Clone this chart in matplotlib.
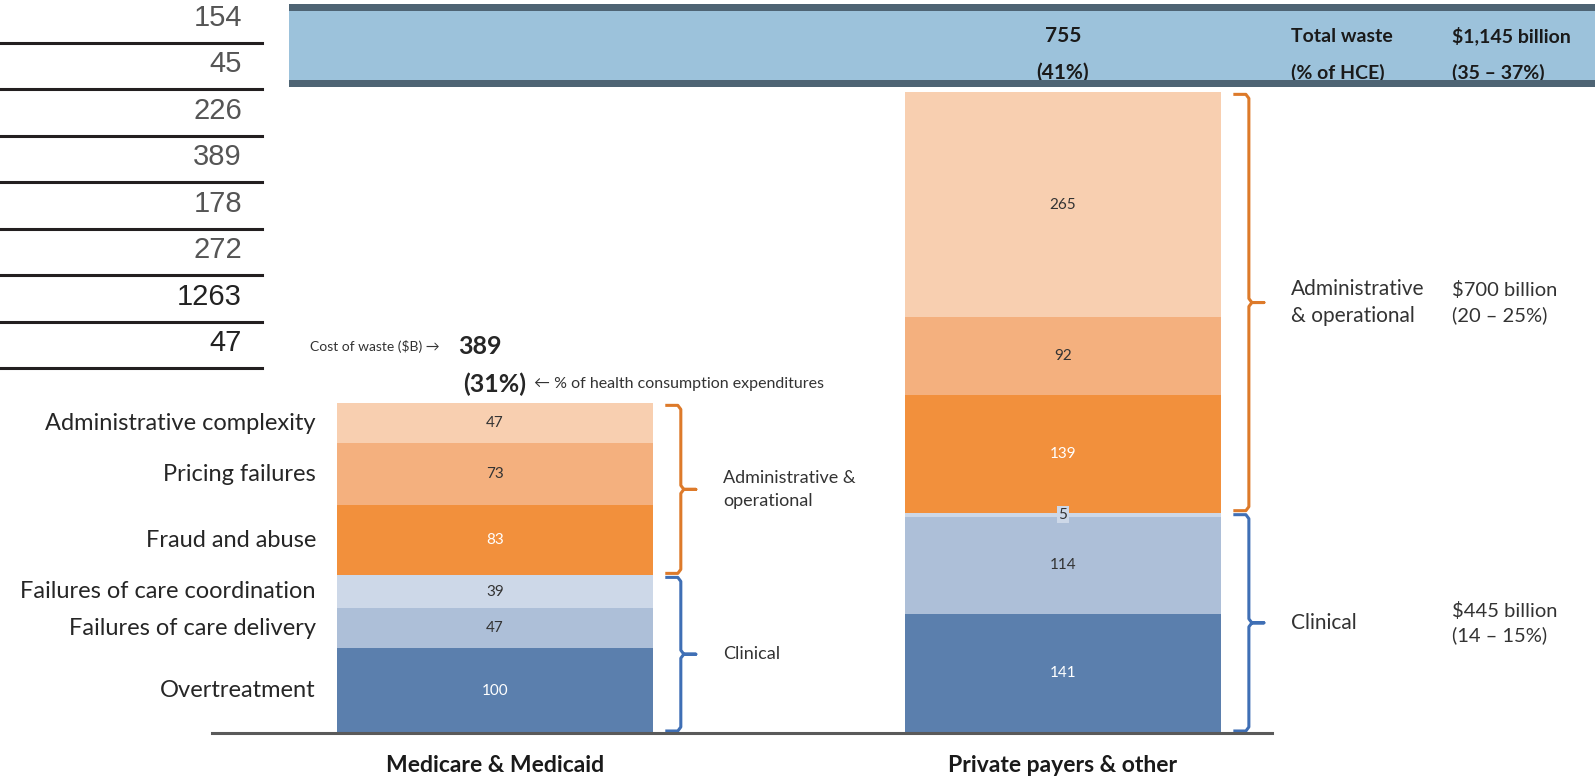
import matplotlib.pyplot as plt
from matplotlib import transforms
from matplotlib.lines import Line2D
from matplotlib.patches import Rectangle

plt.switch_backend('AGG')
plt.rcParams['font.family'] = ['Lato', 'DejaVu Sans']

# --- data (bottom to top of each stack) ---
categories = ['Overtreatment', 'Failures of care delivery', 'Failures of care coordination',
              'Fraud and abuse', 'Pricing failures', 'Administrative complexity']
medicare = [100, 47, 39, 83, 73, 47]
private = [141, 114, 5, 139, 92, 265]
payers = ['Medicare & Medicaid', 'Private payers & other']
totals = ['389', '755']
shares = ['(31%)', '(41%)']
group_names_left = ['Clinical', 'Administrative &\noperational']
group_names_right = ['Clinical', 'Administrative\n& operational']
group_costs = ['$445 billion\n(14 – 15%)', '$700 billion\n(20 – 25%)']
table_values = [154, 45, 226, 389, 178, 272, 1263, 47]

seg_colors = ['#5b7fad', '#adbfd8', '#cdd8e8', '#f2903c', '#f4b07e', '#f8cfb0']
value_colors = ['white', '#333333', '#333333', 'white', '#333333', '#333333']
group_colors = ['#3f6fb5', '#dd7a2a']

W, H = 1595, 780
fig = plt.figure(figsize=(W / 100, H / 100), dpi=100)
ax = fig.add_axes([212 / W, 47 / H, 1060 / W, 733 / H])
x_lo, x_hi, y_hi = -0.498, 1.368, 865
ax.set_xlim(x_lo, x_hi)
ax.set_ylim(0, y_hi)
px_x = (x_hi - x_lo) / 1060
px_y = y_hi / 733
bar_w = 0.556

for s in ['top', 'right', 'left']:
    ax.spines[s].set_visible(False)
ax.spines['bottom'].set_color('#5a5a5a')
ax.spines['bottom'].set_linewidth(2.2)
ax.set_xticks([])
ax.set_yticks([])

# stacked bars
for xi, vals in enumerate([medicare, private]):
    bottom = 0
    for j, v in enumerate(vals):
        ax.bar(xi, v, width=bar_w, bottom=bottom, color=seg_colors[j], linewidth=0)
        kw = {}
        if v < 10:
            kw['bbox'] = dict(facecolor=seg_colors[2], edgecolor='none', pad=1)
        ax.text(xi, bottom + v / 2, str(v), ha='center', va='center', fontsize=11,
                color=value_colors[j], **kw)
        bottom += v

# category labels next to the first bar
bottom = 0
for lab, v in zip(categories, medicare):
    ax.text(-bar_w / 2 - 21 * px_x, bottom + v / 2, lab, ha='right', va='center',
            fontsize=17, color='#262626')
    bottom += v


def brace(x0, y0, y1, color):
    h, c, cy = 14 * px_x, 3 * px_x, 4 * px_y
    mid = (y0 + y1) / 2
    xs = [x0 - h, x0 - c, x0, x0, x0 + c, x0 + 15 * px_x, x0 + c, x0, x0, x0 - c, x0 - h]
    ys = [y1, y1, y1 - cy, mid + cy, mid, mid, mid, mid - cy, y0 + cy, y0, y0]
    ax.plot(xs, ys, color=color, lw=2.2, solid_joinstyle='round', clip_on=False)


fig_y = transforms.blended_transform_factory(fig.transFigure, ax.transData)
for xi, vals in enumerate([medicare, private]):
    lo = 0
    for g in range(2):
        hi = lo + sum(vals[3 * g:3 * g + 3])
        brace(xi + bar_w / 2 + 28 * px_x, lo + 2 * px_y, hi - 2 * px_y, group_colors[g])
        mid = (lo + hi) / 2
        if xi == 0:
            ax.text(bar_w / 2 + 70 * px_x, mid, group_names_left[g], ha='left', va='center',
                    fontsize=13, color='#333333', linespacing=1.5)
        else:
            ax.text(1 + bar_w / 2 + 70 * px_x, mid, group_names_right[g], ha='left',
                    va='center', fontsize=15, color='#333333', linespacing=1.45)
            ax.text(1452 / W, mid, group_costs[g], transform=fig_y, ha='left',
                    va='center', fontsize=14.5, color='#333333', linespacing=1.45)
        lo = hi

# annotations above the first bar
top0 = sum(medicare)
ax.text(-15 * px_x, top0 + 57 * px_y, totals[0], ha='center', va='center',
        fontsize=18, fontweight='bold', color='#262626')
ax.text(0, top0 + 19 * px_y, shares[0], ha='center', va='center',
        fontsize=18, fontweight='bold', color='#262626')
ax.text(-55 * px_x, top0 + 57 * px_y, 'Cost of waste ($B) →', ha='right', va='center',
        fontsize=10, color='#333333')
ax.text(39 * px_x, top0 + 19 * px_y, '← % of health consumption expenditures',
        ha='left', va='center', fontsize=11.5, color='#333333')

# payer labels
for xi, p in enumerate(payers):
    ax.text(xi, -33 * px_y, p, ha='center', va='center', fontsize=16.5,
            fontweight='bold', color='#1a1a1a', clip_on=False)

# header band
fig.add_artist(Rectangle((289 / W, 1 - 80 / H), 1 - 289 / W, 69 / H,
                         transform=fig.transFigure, facecolor='#9cc2db', edgecolor='none', zorder=1))
for y0 in [4, 80]:
    fig.add_artist(Rectangle((289 / W, 1 - (y0 + 7) / H), 1 - 289 / W, 7 / H,
                             transform=fig.transFigure, facecolor='#4e6474',
                             edgecolor='none', zorder=5))
hdr = transforms.blended_transform_factory(ax.transData, fig.transFigure)
fig.text(1, 1 - 36 / H, totals[1], transform=hdr, ha='center', va='center',
         fontsize=15, fontweight='bold', color='#1a1a1a', zorder=3)
fig.text(1, 1 - 73 / H, shares[1], transform=hdr, ha='center', va='center',
         fontsize=15, fontweight='bold', color='#1a1a1a', zorder=3)
fig.text(1291 / W, 1 - 36 / H, 'Total waste', ha='left', va='center', fontsize=14,
         fontweight='bold', color='#1a1a1a', zorder=3)
fig.text(1291 / W, 1 - 73 / H, '(% of HCE)', ha='left', va='center', fontsize=14,
         fontweight='bold', color='#1a1a1a', zorder=3)
fig.text(1452 / W, 1 - 36 / H, '$1,145 billion', ha='left', va='center', fontsize=14,
         fontweight='bold', color='#1a1a1a', zorder=3)
fig.text(1452 / W, 1 - 73 / H, '(35 – 37%)', ha='left', va='center', fontsize=14,
         fontweight='bold', color='#1a1a1a', zorder=3)

# table fragment at top left
for i, v in enumerate(table_values):
    line_y = 42.7 + 46.5 * i
    col = '#222222' if i >= 6 else '#555555'
    fig.text(242 / W, 1 - (line_y - 25) / H, str(v), ha='right', va='center',
             fontsize=21, family='Liberation Sans', color=col)
    fig.add_artist(Line2D([0, 262 / W], [1 - line_y / H] * 2, color='#231f20',
                          lw=2.2, transform=fig.transFigure))

fig.savefig('out.png', dpi=100)
plt.close(fig)
